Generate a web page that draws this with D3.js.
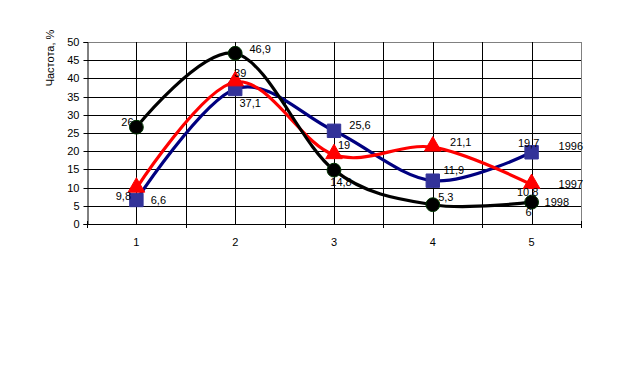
<!DOCTYPE html>
<html><head><meta charset="utf-8">
<script src="https://cdn.jsdelivr.net/npm/d3@7"></script>
<style>body{margin:0;background:#fff}svg{display:block}text{font-family:"Liberation Sans",Arial,sans-serif;font-size:11px;fill:#000}</style>
</head><body>
<svg id="c" width="621" height="379"></svg>
<script>
const categories = ["1","2","3","4","5"];
const seriesNames = ["1996","1997","1998"];
const values1996 = [6.6, 37.1, 25.6, 11.9, 19.7];
const values1997 = [9.8, 39, 19, 21.1, 10.8];
const values1998 = [26.6, 46.9, 14.8, 5.3, 6];
const labels1996 = ["6,6","37,1","25,6","11,9","19,7"];
const labels1997 = ["9,8","39","19","21,1","10,8"];
const labels1998 = ["26","46,9","14,8","5,3","6"];
const yTicks = [0,5,10,15,20,25,30,35,40,45,50];
const yTitle = "Частота, %";

// layout (not data)
const L = {left:87, right:581, top:42, bottom:224};
const labelOffsets = {
  "1996": [[22,0],[15,14],[26,-6],[21,-11],[-3,-9]],
  "1997": [[-13,8],[5,-9],[10,-10],[28,-5],[-4,7]],
  "1998": [[-9,-5],[25,-4],[7,12],[13,-8],[-3,10]]
};
const styles = {
  "1996": {line:"#000080", fill:"#333399", stroke:"#333399", shape:"square"},
  "1997": {line:"#ff0000", fill:"#ff0000", stroke:"#ff0000", shape:"triangle"},
  "1998": {line:"#000000", fill:"#000000", stroke:"#003300", shape:"circle"}
};
const nameOffsets = {"1996":[27,-6], "1997":[27,-1], "1998":[13,0]};

const series = [
  {name:seriesNames[0], values:values1996, labels:labels1996},
  {name:seriesNames[1], values:values1997, labels:labels1997},
  {name:seriesNames[2], values:values1998, labels:labels1998}
];

const svg = d3.select("#c");
const x = d3.scaleBand().domain(categories).range([L.left, L.right]);
const y = d3.scaleLinear().domain([0,50]).range([L.bottom, L.top]);
const cx = c => x(c) + x.bandwidth()/2;

// horizontal gridlines
svg.append("g").selectAll("line").data(yTicks.filter(v=>v>0)).join("line")
  .attr("x1",L.left).attr("x2",L.right)
  .attr("y1",d=>Math.round(y(d))+0.5).attr("y2",d=>Math.round(y(d))+0.5)
  .attr("stroke",d=>d===50?"#808080":"#000").attr("stroke-width",1);
// vertical gridlines at centers and boundaries
const vx = [];
categories.forEach((c,i)=>{ vx.push(cx(c)); if(i>0) vx.push(x(c)); });
svg.append("g").selectAll("line").data(vx).join("line")
  .attr("x1",d=>Math.round(d)+0.5).attr("x2",d=>Math.round(d)+0.5)
  .attr("y1",L.top).attr("y2",L.bottom).attr("stroke","#000");
// right border
svg.append("line").attr("x1",L.right+0.5).attr("x2",L.right+0.5)
  .attr("y1",L.top).attr("y2",L.bottom).attr("stroke","#808080");

// y axis
const yAxis = d3.axisLeft(y).tickValues(yTicks).tickSize(4).tickPadding(4).tickFormat(d3.format("d"));
const ga = svg.append("g").attr("transform",`translate(${L.left+0.5},0)`).call(yAxis);
ga.select(".domain").attr("stroke","#000");
ga.selectAll(".tick line").attr("stroke","#000");
ga.selectAll(".tick").attr("transform",d=>`translate(0,${Math.round(y(d))+0.5})`);
ga.selectAll("text").attr("font-family","Liberation Sans, Arial").attr("font-size",11);

// x axis
svg.append("line").attr("x1",L.left).attr("x2",L.right+1)
  .attr("y1",L.bottom+0.5).attr("y2",L.bottom+0.5).attr("stroke","#000");
const bounds = categories.map(c=>x(c)).concat([L.right]);
svg.append("g").selectAll("line").data(bounds).join("line")
  .attr("x1",d=>Math.round(d)+0.5).attr("x2",d=>Math.round(d)+0.5)
  .attr("y1",L.bottom-3).attr("y2",L.bottom+4).attr("stroke","#000");
svg.append("g").selectAll("text").data(categories).join("text")
  .attr("x",d=>cx(d)).attr("y",L.bottom+22).attr("text-anchor","middle").text(d=>d);

// y title
svg.append("text").attr("transform",`translate(54,58) rotate(-90)`)
  .attr("text-anchor","middle").text(yTitle);

// lines
const line = d3.line().x((d,i)=>cx(categories[i])).y(d=>y(d)).curve(d3.curveCardinal.tension(0));
series.forEach(s=>{
  svg.append("path").attr("d",line(s.values)).attr("fill","none")
    .attr("stroke",styles[s.name].line).attr("stroke-width",3.2).attr("stroke-linejoin","round");
});
// markers
const sym = {square:d3.symbolSquare, triangle:d3.symbolTriangle, circle:d3.symbolCircle};
const size = {square:180, triangle:120, circle:150};
series.forEach(s=>{
  const st = styles[s.name];
  svg.append("g").selectAll("path").data(s.values).join("path")
    .attr("transform",(d,i)=>`translate(${cx(categories[i])},${y(d) + (st.shape==="triangle"?-1:0)})`)
    .attr("d",d3.symbol().type(sym[st.shape]).size(size[st.shape]))
    .attr("fill",st.fill).attr("stroke",st.stroke).attr("stroke-width",1);
});
// data labels
series.forEach(s=>{
  const off = labelOffsets[s.name];
  svg.append("g").selectAll("text").data(s.values).join("text")
    .attr("x",(d,i)=>cx(categories[i])+off[i][0])
    .attr("y",(d,i)=>y(d)+off[i][1]+4)
    .attr("text-anchor","middle").text((d,i)=>s.labels[i]);
  const last = s.values.length-1;
  svg.append("text").attr("x",cx(categories[last])+nameOffsets[s.name][0])
    .attr("y",y(s.values[last])+nameOffsets[s.name][1]+4).text(s.name);
});
</script>
</body></html>
